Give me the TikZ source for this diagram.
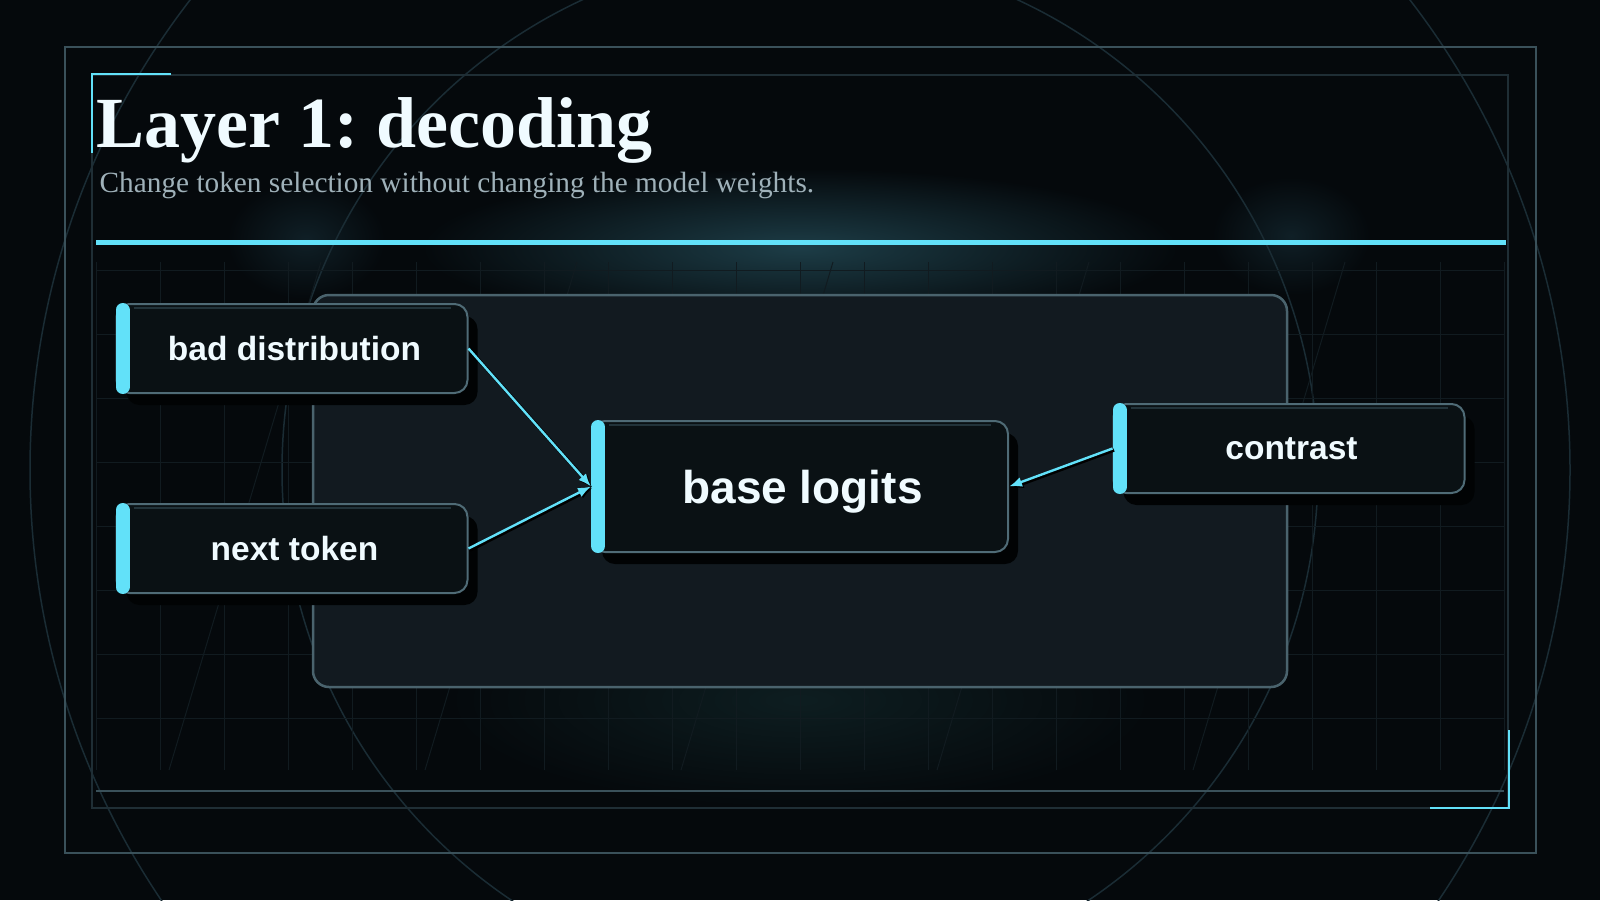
\documentclass[tikz,border=0pt]{standalone}
\usepackage{fontspec}
\setmainfont{Liberation Serif}
\setsansfont{Liberation Sans}
\usetikzlibrary{positioning, arrows.meta, fadings}
\definecolor{bgc}{HTML}{05090C}
\definecolor{gridc}{HTML}{111B20}
\definecolor{ringc}{HTML}{1A2C34}
\definecolor{framec}{HTML}{3A515A}
\definecolor{innerc}{HTML}{1F2E35}
\definecolor{cyanc}{HTML}{62E1F9}
\definecolor{glowc}{HTML}{1D3D47}
\definecolor{glowb}{HTML}{0E1E21}
\definecolor{groupfill}{HTML}{121A20}
\definecolor{groupdraw}{HTML}{4A636D}
\definecolor{boxfill}{HTML}{0A1114}
\definecolor{boxdraw}{HTML}{4F6B76}
\definecolor{hilinec}{HTML}{22333A}
\definecolor{shadowc}{HTML}{010304}
\definecolor{titlec}{HTML}{F0FBFF}
\definecolor{subc}{HTML}{9FB1B9}
\tikzfading[name=glowfade, inner color=transparent!0, outer color=transparent!100]
\frenchspacing

\begin{document}
\begin{tikzpicture}[x=1pt, y=-1pt, node distance=109pt,
	gridline/.style={draw=gridc, line width=1pt},
	groupbox/.style={draw=groupdraw, fill=groupfill, line width=2.5pt, rounded corners=16pt, inner sep=0pt},
	block/.style={draw=boxdraw, fill=boxfill, line width=2pt, rounded corners=13pt, minimum width=351pt, minimum height=89pt, inner sep=0pt, text=titlec, text depth=0pt, font=\sffamily\bfseries\fontsize{33.5}{40}\selectfont, preaction={fill=shadowc, transform canvas={xshift=10pt, yshift=-12pt}}},
	bar/.style={draw=cyanc, line width=14pt, line cap=round},
	hiline/.style={draw=hilinec, line width=2pt},
	conn/.style={draw=cyanc, line width=2.4pt, -{Latex[length=13pt, width=10pt]}, preaction={draw=black, line width=3.5pt, transform canvas={xshift=1.5pt, yshift=-1.5pt}}}]
	\useasboundingbox (0,0) rectangle (1600,900);
	\fill[bgc] (0,0) rectangle (1600,900);
	% glows
	\fill[glowc, path fading=glowfade] (800,248) ellipse [x radius=380, y radius=80];
	\fill[glowc!45!bgc, path fading=glowfade] (306,240) ellipse [x radius=80, y radius=60];
	\fill[glowc!45!bgc, path fading=glowfade] (1291,236) ellipse [x radius=80, y radius=60];
	\fill[glowb, path fading=glowfade] (800,700) ellipse [x radius=360, y radius=110];
	\draw[ringc, line width=1.5pt] (800,470) circle [radius=518];
	\draw[ringc, line width=1.5pt] (800,470) circle [radius=770];
	% grid
	\foreach \gx in {96,160,...,1504} \draw[gridline] (\gx,262) -- (\gx,770);
	\foreach \gy in {270,334,...,718} \draw[gridline] (96,\gy) -- (1504,\gy);
	\foreach \dx in {169,425,681,937,1193} \draw[gridline] (\dx,770) -- (\dx+152,262);
	% frames
	\draw[framec, line width=2pt] (65,47) rectangle (1536,853);
	\draw[innerc, line width=1.5pt] (92,75) rectangle (1508,808);
	\draw[framec, line width=1.5pt] (96,791) -- (1504,791);
	\draw[cyanc, line width=2.5pt] (171,74) -- (92,74) -- (92,153);
	\draw[cyanc, line width=2.5pt] (1430,808) -- (1509,808) -- (1509,730);
	\draw[cyanc, line width=5pt] (96,242) -- (1506,242);
	\node[anchor=base west, inner sep=0pt, text=titlec, font=\bfseries\fontsize{72}{72}\selectfont] (title) at (96,147) {Layer 1: decoding};
	\node[anchor=base west, inner sep=0pt, text=subc, font=\fontsize{29.3}{31}\selectfont] (sub) at (99.5,192) {Change token selection without changing the model weights.};
	\node[groupbox, minimum width=974pt, minimum height=392pt] (grp) at (800,491) {};
	\node[block] (bad) at (292,348.5) {\hspace*{5pt}bad distribution};
	\node[block, below=of bad] (next) {\hspace*{5pt}next token};
	\node[block, minimum width=416pt, minimum height=131pt, font=\sffamily\bfseries\fontsize{46}{52}\selectfont] (base) at (800,486.5) {\hspace*{5pt}base logits};
	\node[block] (contrast) at (1289,448.5) {\hspace*{5pt}contrast};
	\foreach \n in {bad,next,base,contrast}{
		\draw[hiline] ([xshift=18pt,yshift=-4.5pt]\n.north west) -- ([xshift=-18pt,yshift=-4.5pt]\n.north east);
		\draw[bar] ([xshift=7pt,yshift=-7pt]\n.north west) -- ([xshift=7pt,yshift=7pt]\n.south west);
	}
	\path
	(bad.east) edge[conn] (base.west)
	(next.east) edge[conn] (base.west)
	(contrast.west) edge[conn] (base.east)
	;
\end{tikzpicture}
\end{document}
